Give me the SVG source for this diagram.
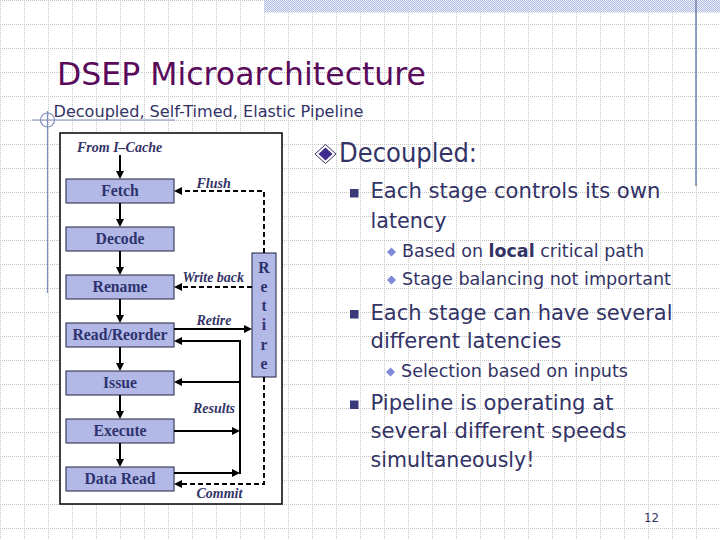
<svg xmlns="http://www.w3.org/2000/svg" width="720" height="540" viewBox="0 0 720 540">
<defs>
<pattern id="grid" x="0" y="0" width="24" height="24" patternUnits="userSpaceOnUse">
<path d="M0,0.5 H24 M0.5,0 V24" fill="none" stroke="#c4c4c4" stroke-width="1" stroke-dasharray="1 1"/>
</pattern>
<pattern id="band" x="0" y="0" width="2" height="2" patternUnits="userSpaceOnUse">
<rect width="2" height="2" fill="#eef1fa"/>
<rect width="1" height="1" fill="#adbbe0"/>
<rect x="1" y="1" width="1" height="1" fill="#adbbe0"/>
</pattern>
<marker id="ah" viewBox="0 0 8 8" refX="5" refY="4" markerWidth="8" markerHeight="8" markerUnits="userSpaceOnUse" orient="auto">
<path d="M0,0 L8,4 L0,8 z" fill="#000"/>
</marker>
<style>
.sans{font-family:"DejaVu Sans","Liberation Sans",sans-serif;fill:#333366}
.title{font-family:"DejaVu Sans","Liberation Sans",sans-serif;fill:#5a0a5a;font-size:32px}
.stage rect{fill:#b3b9e7;stroke:#1e1e40;stroke-width:1}
.stage text{font-family:"Liberation Serif","Times New Roman",serif;font-weight:bold;font-size:15.7px;fill:#2e336e;text-anchor:middle}
.lbl{font-family:"Liberation Serif","Times New Roman",serif;font-weight:bold;font-style:italic;font-size:14px;fill:#333366}
.solid{fill:none;stroke:#000;stroke-width:2}
.dash{fill:none;stroke:#000;stroke-width:2;stroke-dasharray:5 3}
.deco{fill:none;stroke:#7f8dbd;stroke-width:1.2}
.sq{fill:#3a3a78}
.dm{fill:#8089d8}
</style>
</defs>

<rect width="720" height="540" fill="#ffffff"/>
<rect width="720" height="540" fill="url(#grid)"/>
<rect x="264" y="0" width="456" height="12.5" fill="url(#band)"/>
<line x1="696" y1="0" x2="696" y2="186" stroke="#6f7fa9" stroke-width="1.5"/>

<g id="decoration">
<line class="deco" x1="32" y1="120" x2="175" y2="120"/>
<line class="deco" x1="47.5" y1="111" x2="47.5" y2="293"/>
<circle class="deco" cx="47.5" cy="120" r="7"/>
</g>

<text class="title" x="57" y="85" textLength="369" lengthAdjust="spacingAndGlyphs">DSEP Microarchitecture</text>
<text class="sans" x="53.5" y="117" font-size="16" textLength="310" lengthAdjust="spacingAndGlyphs">Decoupled, Self-Timed, Elastic Pipeline</text>

<g id="diagram-frame">
<rect x="60" y="133" width="222" height="371" fill="#ffffff" stroke="#000" stroke-width="1.5"/>
<text class="lbl" x="77" y="152">From I–Cache</text>
</g>

<g id="fetch" class="stage"><rect x="66" y="179" width="108" height="24"/><text x="120" y="196">Fetch</text></g>
<g id="decode" class="stage"><rect x="66" y="227" width="108" height="24"/><text x="120" y="244">Decode</text></g>
<g id="rename" class="stage"><rect x="66" y="275" width="108" height="24"/><text x="120" y="292">Rename</text></g>
<g id="readreorder" class="stage"><rect x="66" y="323" width="108" height="24"/><text x="120" y="340">Read/Reorder</text></g>
<g id="issue" class="stage"><rect x="66" y="371" width="108" height="24"/><text x="120" y="388">Issue</text></g>
<g id="execute" class="stage"><rect x="66" y="419" width="108" height="24"/><text x="120" y="436">Execute</text></g>
<g id="dataread" class="stage"><rect x="66" y="467" width="108" height="24"/><text x="120" y="484">Data Read</text></g>
<g id="retire" class="stage">
<rect x="252" y="253" width="24" height="124"/>
<text x="264" y="272.5" font-size="15.5">R</text>
<text x="264" y="292" font-size="15.5">e</text>
<text x="264" y="311" font-size="15.5">t</text>
<text x="264" y="330" font-size="15.5">i</text>
<text x="264" y="350" font-size="15.5">r</text>
<text x="264" y="369" font-size="15.5">e</text>
</g>

<g id="connectors">
<path class="solid" d="M120,155 V176" marker-end="url(#ah)"/>
<path class="solid" d="M120,203 V224" marker-end="url(#ah)"/>
<path class="solid" d="M120,251 V272" marker-end="url(#ah)"/>
<path class="solid" d="M120,299 V320" marker-end="url(#ah)"/>
<path class="solid" d="M120,347 V368" marker-end="url(#ah)"/>
<path class="solid" d="M120,395 V416" marker-end="url(#ah)"/>
<path class="solid" d="M120,443 V464" marker-end="url(#ah)"/>
<path class="dash" d="M264,253 V191 H177" marker-end="url(#ah)"/>
<path class="dash" d="M252,287 H177" marker-end="url(#ah)"/>
<path class="solid" d="M174,329 H249" marker-end="url(#ah)"/>
<path class="solid" d="M240,340 V474"/>
<path class="solid" d="M240,341 H177" marker-end="url(#ah)"/>
<path class="solid" d="M240,382 H177" marker-end="url(#ah)"/>
<path class="solid" d="M174,431 H237" marker-end="url(#ah)"/>
<path class="solid" d="M174,473 H237" marker-end="url(#ah)"/>
<path class="dash" d="M264,377 V484 H177" marker-end="url(#ah)"/>
<text class="lbl" x="196.5" y="188">Flush</text>
<text class="lbl" x="182.5" y="282">Write back</text>
<text class="lbl" x="196.5" y="324.5">Retire</text>
<text class="lbl" x="193" y="413">Results</text>
<text class="lbl" x="196.5" y="497.5">Commit</text>
</g>

<g id="bullets">
<polygon points="315,154 325.5,144.5 336,154 325.5,163.5" fill="none" stroke="#333366" stroke-width="1"/>
<polygon points="318.5,154 325.5,147.5 332.5,154 325.5,160.5" fill="#3f2b90"/>
<text class="sans" x="339" y="162" font-size="26" textLength="138" lengthAdjust="spacingAndGlyphs">Decoupled:</text>

<rect class="sq" x="350" y="189" width="8.5" height="8.5"/>
<text class="sans" x="370.5" y="198" font-size="22" textLength="290" lengthAdjust="spacingAndGlyphs">Each stage controls its own</text>
<text class="sans" x="370.5" y="228" font-size="22" textLength="76" lengthAdjust="spacingAndGlyphs">latency</text>

<polygon class="dm" points="387,252 391.5,247.5 396,252 391.5,256.5"/>
<text class="sans" x="402" y="257" font-size="18" textLength="242" lengthAdjust="spacingAndGlyphs">Based on <tspan font-weight="bold">local</tspan> critical path</text>
<polygon class="dm" points="387,280 391.5,275.5 396,280 391.5,284.5"/>
<text class="sans" x="402" y="285" font-size="18" textLength="269" lengthAdjust="spacingAndGlyphs">Stage balancing not important</text>

<rect class="sq" x="350" y="310" width="8.5" height="8.5"/>
<text class="sans" x="370.5" y="320" font-size="22" textLength="302" lengthAdjust="spacingAndGlyphs">Each stage can have several</text>
<text class="sans" x="370.5" y="348" font-size="22" textLength="191" lengthAdjust="spacingAndGlyphs">different latencies</text>

<polygon class="dm" points="386,372 390.5,367.5 395,372 390.5,376.5"/>
<text class="sans" x="401" y="377" font-size="18" textLength="227" lengthAdjust="spacingAndGlyphs">Selection based on inputs</text>

<rect class="sq" x="350" y="400.5" width="8.5" height="8.5"/>
<text class="sans" x="370.5" y="410" font-size="22" textLength="243" lengthAdjust="spacingAndGlyphs">Pipeline is operating at</text>
<text class="sans" x="370.5" y="438" font-size="22" textLength="256" lengthAdjust="spacingAndGlyphs">several different speeds</text>
<text class="sans" x="370.5" y="467" font-size="22" textLength="164" lengthAdjust="spacingAndGlyphs">simultaneously!</text>
</g>

<text class="sans" x="644" y="522" font-size="13" textLength="15" lengthAdjust="spacingAndGlyphs">12</text>
</svg>
